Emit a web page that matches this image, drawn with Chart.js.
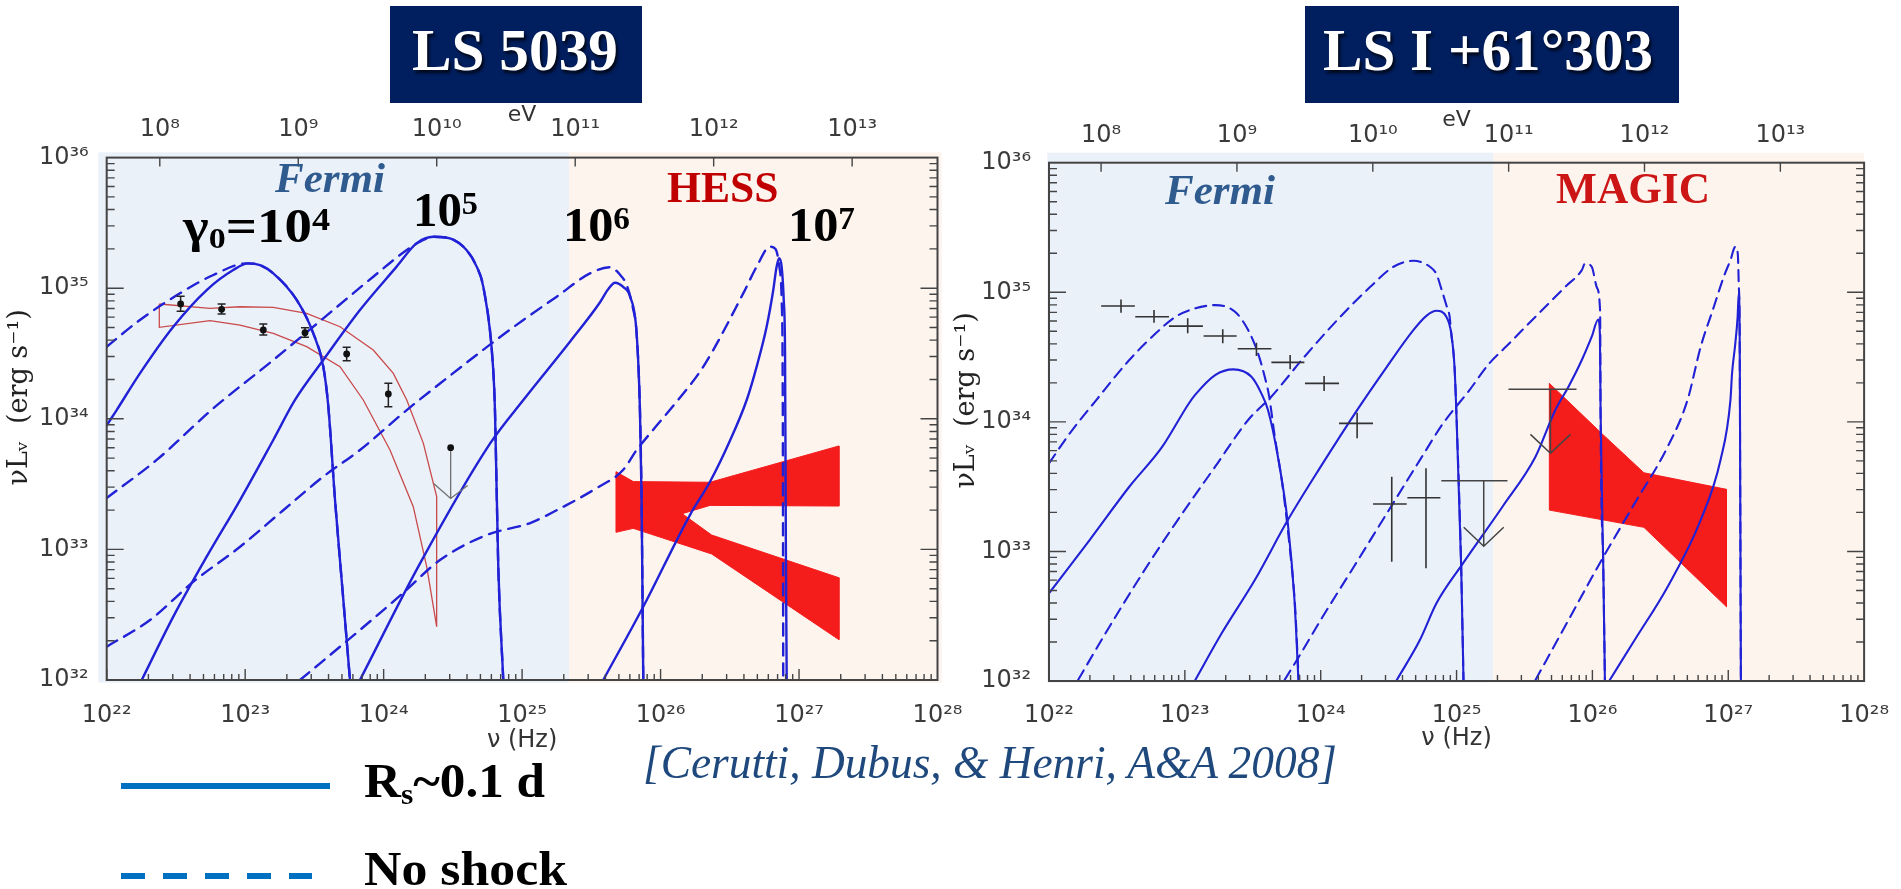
<!DOCTYPE html>
<html><head><meta charset="utf-8">
<script src="https://cdn.jsdelivr.net/npm/chart.js@4.4.1/dist/chart.umd.min.js"></script>
<style>
html,body{margin:0;padding:0;background:#fff;width:1901px;height:889px;overflow:hidden;position:relative;}
canvas{position:absolute;top:0;}
#cLeft{left:0;}
#cRight{left:950px;}
.box{position:absolute;background:#011e5e;}
.t{position:absolute;white-space:nowrap;line-height:1;transform-origin:0 0;font-family:"Liberation Serif",serif;}
.sup{position:relative;font-size:0.66em;top:-0.37em;}
.sub{position:relative;font-size:0.62em;top:0.22em;}
.ttl{font-size:60px;font-weight:bold;color:#fff;text-shadow:2px 3px 3px rgba(0,0,0,.75);}
.lab{font-size:48px;font-weight:bold;color:#000;}
.fermi{font-size:43px;font-weight:bold;font-style:italic;color:#2f5b8e;}
.legline{position:absolute;height:6px;}
</style></head><body>
<canvas id="cLeft" width="980" height="770"></canvas>
<canvas id="cRight" width="951" height="770"></canvas>
<div class="box" style="left:390px;top:6px;width:252px;height:97px"></div>
<div class="box" style="left:1305px;top:6px;width:374px;height:97px"></div>
<div class="t ttl" data-x="412" data-b="70" data-w="206">LS 5039</div>
<div class="t ttl" data-x="1323" data-b="70" data-w="330">LS I +61°303</div>
<div class="t fermi" data-x="275" data-b="191.7" data-w="110">Fermi</div>
<div class="t fermi" data-x="1165" data-b="203.5" data-w="110">Fermi</div>
<div class="t" data-x="666.7" data-b="201.7" data-w="111.6" style="font-size:45px;font-weight:bold;color:#c00000">HESS</div>
<div class="t" data-x="1556" data-b="203" data-w="154" style="font-size:44px;font-weight:bold;color:#cc1515">MAGIC</div>
<div class="t lab" data-x="183" data-b="241.7" data-w="147">γ<span class="sub">0</span>=10<span class="sup">4</span></div>
<div class="t lab" data-x="413" data-b="226" data-w="65">10<span class="sup">5</span></div>
<div class="t lab" data-x="563" data-b="241" data-w="67">10<span class="sup">6</span></div>
<div class="t lab" data-x="788" data-b="241" data-w="67">10<span class="sup">7</span></div>
<div class="legline" style="left:121px;top:782.7px;width:209px;background:#0070c0"></div>
<div class="legline" style="left:121px;top:873px;width:191px;background:repeating-linear-gradient(to right,#0070c0 0 24px,transparent 24px 42px)"></div>
<div class="t lab" data-x="364" data-b="797" data-w="181">R<span class="sub">s</span>~0.1 d</div>
<div class="t lab" data-x="364" data-b="885" data-w="203">No shock</div>
<div class="t" data-x="643" data-b="778" data-w="694" style="font-size:46px;font-style:italic;color:#1f497d">[Cerutti, Dubus, &amp; Henri, A&amp;A 2008]</div>
<script>
// ---------------- DATA (log10 ν [Hz], log10 νLν [erg/s]) ----------------
const hzTickValues = [1e22, 1e23, 1e24, 1e25, 1e26, 1e27, 1e28];
const hzTickLabels = ['10²²', '10²³', '10²⁴', '10²⁵', '10²⁶', '10²⁷', '10²⁸'];
const evTickValues = [1e8, 1e9, 1e10, 1e11, 1e12, 1e13];
const evTickLabels = ['10⁸', '10⁹', '10¹⁰', '10¹¹', '10¹²', '10¹³'];
const lumTickValues = [1e32, 1e33, 1e34, 1e35, 1e36];
const lumTickLabels = ['10³²', '10³³', '10³⁴', '10³⁵', '10³⁶'];
const HZ_TO_EV = 4.135667e-15;

// LS 5039
const ls_bandEdges = [1e22, 2.18e25, 1e28];
const ls_solid_g4 = [[22.0,33.95],[22.072,34.067],[22.24,34.348],[22.481,34.705],[22.722,34.986],[22.914,35.139],[23.023,35.19],[23.107,35.177],[23.203,35.114],[23.372,34.91],[23.492,34.654],[23.564,34.4],[23.6,34.1],[23.649,33.378],[23.709,32.613],[23.757,32.0]];
const ls_dash_g4 = [[22.0,34.552],[22.24,34.757],[22.529,34.961],[22.77,35.101],[23.011,35.19],[23.107,35.177],[23.203,35.114],[23.372,34.91],[23.492,34.654],[23.564,34.4],[23.6,34.1],[23.649,33.378],[23.709,32.613],[23.757,32.0]];
const ls_solid_g5 = [[22.253,32.0],[22.481,32.485],[22.722,32.944],[22.963,33.378],[23.203,33.838],[23.36,34.144],[23.564,34.45],[23.829,34.833],[24.094,35.165],[24.239,35.345],[24.359,35.394],[24.479,35.381],[24.6,35.29],[24.672,35.165],[24.72,35.01],[24.79,34.4],[24.804,34.067],[24.828,32.867],[24.864,32.0]];
const ls_dash_g5 = [[22.0,33.394],[22.361,33.685],[22.77,34.08],[23.203,34.45],[23.636,34.833],[23.925,35.088],[24.167,35.293],[24.263,35.356],[24.359,35.394],[24.479,35.381],[24.6,35.29],[24.672,35.165],[24.72,35.01],[24.79,34.4],[24.804,34.067],[24.828,32.867],[24.864,32.0]];
const ls_solid_g6 = [[23.829,32.0],[24.263,32.893],[24.768,33.81],[25.009,34.144],[25.347,34.592],[25.564,34.894],[25.62,34.99],[25.671,35.042],[25.73,35.01],[25.78,34.935],[25.827,34.654],[25.851,34.067],[25.863,33.378],[25.875,32.0]];
const ls_dash_g6 = [[22.0,32.255],[22.313,32.459],[22.626,32.753],[22.963,33.02],[23.275,33.30],[23.564,33.557],[23.829,33.761],[24.167,34.067],[24.407,34.27],[24.768,34.568],[25.009,34.757],[25.25,34.935],[25.49,35.113],[25.635,35.16],[25.709,35.101],[25.755,35.025],[25.8,34.85],[25.827,34.654],[25.851,34.067],[25.863,33.378],[25.875,32.0]];
const ls_solid_g7 = [[25.586,32.0],[25.875,32.561],[26.212,33.263],[26.357,33.518],[26.5,33.83],[26.622,34.144],[26.694,34.40],[26.766,34.705],[26.814,34.986],[26.838,35.165],[26.857,35.23],[26.875,35.16],[26.89,34.9],[26.899,34.5],[26.905,33.0],[26.911,32.0]];
const ls_dash_g7 = [[23.396,32.0],[23.829,32.383],[24.14,32.666],[24.407,32.919],[24.744,33.11],[25.058,33.202],[25.25,33.30],[25.539,33.47],[25.729,33.608],[25.827,33.761],[25.945,33.914],[26.116,34.131],[26.309,34.40],[26.597,34.96],[26.694,35.165],[26.79,35.318],[26.83,35.3],[26.86,35.15],[26.875,34.9],[26.883,34.0],[26.886,32.0]];
const ls_fermiBow = [[22.38,34.879],[22.746,34.846],[22.963,34.858],[23.203,34.853],[23.444,34.807],[23.685,34.705],[23.925,34.527],[24.07,34.348],[24.167,34.144],[24.287,33.812],[24.383,33.404],[24.383,32.408],[24.311,32.868],[24.214,33.327],[24.046,33.761],[23.853,34.144],[23.685,34.399],[23.444,34.552],[23.203,34.654],[22.963,34.718],[22.746,34.751],[22.38,34.70],[22.38,34.879]];
const ls_hessA = [[25.678,33.595],[25.803,33.519],[26.357,33.514],[27.288,33.792],[27.288,33.332],[26.357,33.337],[25.803,33.161],[25.678,33.131],[25.678,33.595]];
const ls_hessB = [[25.803,33.30],[26.152,33.276],[26.369,33.11],[27.288,32.783],[27.288,32.309],[26.369,32.965],[25.803,33.161],[25.803,33.30]];
const ls_pts_nu = [22.534, 22.83, 23.131, 23.432, 23.733, 24.034];
const ls_pts_L = [34.879, 34.838, 34.68, 34.659, 34.496, 34.19];
const ls_pts_Lhi = [34.939, 34.879, 34.726, 34.698, 34.547, 34.272];
const ls_pts_Llo = [34.824, 34.802, 34.642, 34.624, 34.445, 34.093];
const ls_ul_nu = [24.484];
const ls_ul_L = [33.779];
const ls_ul_Ltip = [33.39];

// LS I +61 303
const lsi_bandEdges = [1e22, 1.86e25, 1e28];
const lsi_solid_g4 = [[22.0,32.677],[22.299,33.088],[22.591,33.499],[22.834,33.808],[23.028,34.14],[23.077,34.21],[23.223,34.361],[23.357,34.405],[23.49,34.348],[23.563,34.22],[23.612,34.091],[23.685,33.731],[23.758,33.217],[23.807,32.625],[23.836,32.008]];
const lsi_dash_g4 = [[22.0,33.68],[22.153,33.911],[22.348,34.168],[22.591,34.477],[22.786,34.683],[22.931,34.811],[23.077,34.876],[23.223,34.901],[23.369,34.85],[23.466,34.708],[23.539,34.528],[23.588,34.348],[23.62,34.2],[23.66,33.9],[23.72,33.5],[23.775,33.0],[23.81,32.6],[23.838,32.008]];
const lsi_solid_g5 = [[23.077,32.008],[23.271,32.368],[23.515,32.779],[23.758,33.242],[24.0,33.654],[24.268,34.091],[24.487,34.425],[24.682,34.708],[24.78,34.82],[24.852,34.857],[24.925,34.811],[24.961,34.683],[24.985,34.425],[24.998,34.091],[25.034,32.882],[25.051,32.008]];
const lsi_dash_g5 = [[22.214,32.008],[22.445,32.419],[22.688,32.831],[22.931,33.217],[23.223,33.654],[23.466,34.014],[23.636,34.194],[23.88,34.502],[24.123,34.787],[24.365,35.042],[24.536,35.197],[24.682,35.243],[24.804,35.197],[24.852,35.14],[24.89,35.02],[24.925,34.9],[24.949,34.811],[24.961,34.683],[24.985,34.425],[24.998,34.091],[25.034,32.882],[25.051,32.008]];
const lsi_solid_g6 = [[24.56,32.008],[24.73,32.316],[24.852,32.6],[25.047,32.908],[25.338,33.345],[25.581,33.731],[25.727,34.091],[25.824,34.271],[25.922,34.477],[25.995,34.657],[26.043,34.79],[26.055,34.683],[26.06,34.091],[26.08,32.882],[26.092,32.008]];
const lsi_dash_g6 = [[23.734,32.008],[23.855,32.214],[24.0,32.471],[24.244,32.882],[24.487,33.294],[24.73,33.705],[24.901,33.988],[25.095,34.245],[25.241,34.451],[25.363,34.579],[25.508,34.734],[25.654,34.888],[25.8,35.042],[25.922,35.171],[25.946,35.223],[25.995,35.197],[26.031,35.042],[26.055,34.888],[26.058,34.7],[26.06,34.091],[26.08,32.882],[26.092,32.008]];
const lsi_solid_g7 = [[26.128,32.008],[26.311,32.316],[26.554,32.728],[26.797,33.242],[26.943,33.705],[27.016,34.168],[27.028,34.374],[27.052,34.606],[27.069,34.811],[27.077,34.991],[27.084,34.683],[27.088,33.5],[27.093,32.008]];
const lsi_dash_g7 = [[25.581,32.008],[25.824,32.471],[26.068,32.934],[26.311,33.371],[26.554,33.808],[26.7,34.168],[26.797,34.579],[26.894,34.888],[26.967,35.12],[27.016,35.248],[27.052,35.351],[27.07,35.3],[27.077,35.069],[27.084,34.683],[27.088,33.5],[27.093,32.008]];
const lsi_magic = [[25.683,34.297],[26.068,33.911],[26.379,33.607],[26.987,33.479],[26.987,32.573],[26.379,33.186],[25.683,33.319],[25.683,34.297]];
const lsi_cross_nu = [22.53, 22.773, 23.021, 23.279, 23.527, 23.775, 24.025, 24.268, 24.523, 24.775];
const lsi_cross_nuLo = [22.384, 22.635, 22.883, 23.138, 23.389, 23.637, 23.884, 24.135, 24.385, 24.638];
const lsi_cross_nuHi = [22.632, 22.883, 23.133, 23.381, 23.637, 23.88, 24.135, 24.385, 24.633, 24.881];
const lsi_cross_L = [34.894, 34.811, 34.739, 34.662, 34.564, 34.459, 34.297, 33.988, 33.366, 33.414];
const lsi_cross_Lhi = [34.945, 34.863, 34.799, 34.714, 34.61, 34.515, 34.353, 34.07, 33.576, 33.641];
const lsi_cross_Llo = [34.842, 34.765, 34.683, 34.606, 34.508, 34.405, 34.238, 33.873, 32.92, 32.87];
const lsi_ul_nuLo = [24.888, 25.382];
const lsi_ul_nuHi = [25.375, 25.883];
const lsi_ul_nu = [25.2, 25.691];
const lsi_ul_L = [33.546, 34.251];
const lsi_ul_Ltip = [33.04, 33.757];

// ---------------- helpers ----------------
const p10 = v => Math.pow(10, v);
const toXY = arr => arr.map(([a, b]) => ({x: p10(a), y: p10(b)}));

const BLUE = 'rgb(33,33,214)';
const RED = 'rgb(245,28,28)';

function curve(data, dashed, st) {
  return {data: toXY(data), showLine: true, borderColor: BLUE, borderWidth: st.lw,
    borderDash: dashed ? st.dash : [], pointRadius: 0, fill: false,
    cubicInterpolationMode: 'monotone', borderJoinStyle: 'round', borderCapStyle: 'round'};
}
function poly(data) {
  return {data: toXY(data), showLine: true, borderColor: RED, backgroundColor: RED, borderWidth: 1,
    pointRadius: 0, fill: 'shape', tension: 0};
}

const tickFont = {family: 'DejaVu Sans', size: 24};
const tickColor = '#3a3a3a';

function makeScales(L) {
  return {
    x: {type: 'logarithmic', position: 'bottom', min: 1e22, max: 1e28,
      afterBuildTicks: s => { s.ticks = hzTickValues.map(v => ({value: v})); },
      afterFit: s => { s.height = L.xH; },
      ticks: {callback: (v, i) => hzTickLabels[i], font: tickFont, color: tickColor, padding: L.xPad, maxRotation: 0, minRotation: 0, autoSkip: false},
      grid: {display: false}, border: {display: false},
      title: {display: true, text: 'ν (Hz)', font: {family: 'DejaVu Sans', size: 24}, color: '#333', padding: {top: 0, bottom: L.xTitlePad}}},
    x2: {type: 'logarithmic', position: 'top', min: 1e22 * HZ_TO_EV, max: 1e28 * HZ_TO_EV,
      afterBuildTicks: s => { s.ticks = evTickValues.map(v => ({value: v})); },
      afterFit: s => { s.height = L.x2H; },
      ticks: {callback: (v, i) => evTickLabels[i], font: tickFont, color: tickColor, padding: L.x2Pad, maxRotation: 0, minRotation: 0, autoSkip: false},
      grid: {display: false}, border: {display: false},
      title: {display: true, text: 'eV', font: {family: 'DejaVu Sans', size: 22}, color: '#333', padding: {top: L.evTitlePad, bottom: 0}}},
    y: {type: 'logarithmic', position: 'left', min: 1e32, max: 1e36,
      afterBuildTicks: s => { s.ticks = lumTickValues.map(v => ({value: v})); },
      afterFit: s => { s.width = L.yW; },
      ticks: {callback: (v, i) => lumTickLabels[i], font: tickFont, color: tickColor, padding: 10, autoSkip: false},
      grid: {display: false}, border: {display: false},
      title: {display: true, text: '\u00a0\u00a0\u00a0\u00a0\u00a0νLᵥ  (erg s⁻¹)', font: {family: 'DejaVu Serif', size: 27}, color: '#222', padding: {top: L.yTitlePad, bottom: 0}}},
    y2: {type: 'logarithmic', position: 'right', min: 1e32, max: 1e36,
      afterFit: s => { s.width = L.y2W; },
      ticks: {display: false}, grid: {display: false}, border: {display: false}}
  };
}

function sedPlugin(cfg) {
  return {
    id: 'sed',
    beforeDraw(chart) {
      const {ctx, chartArea: a, scales: {x}} = chart;
      ctx.save();
      const n = cfg.bandEdges.length - 1;
      for (let i = 0; i < n; i++) {
        let x0 = x.getPixelForValue(cfg.bandEdges[i]);
        let x1 = x.getPixelForValue(cfg.bandEdges[i + 1]);
        if (i === 0) x0 -= cfg.bandPad[0];
        if (i === n - 1) x1 += cfg.bandPad[1];
        ctx.fillStyle = cfg.bandColors[i];
        ctx.fillRect(x0, a.top - cfg.bandPad[2], x1 - x0, a.bottom - a.top + cfg.bandPad[2] + cfg.bandPad[3]);
      }
      ctx.restore();
    },
    afterDatasetsDraw(chart) {
      const {ctx, scales: {x, y}} = chart;
      const X = v => x.getPixelForValue(p10(v));
      const Y = v => y.getPixelForValue(p10(v));
      ctx.save();
      if (cfg.pts) {
        const P = cfg.pts;
        ctx.strokeStyle = '#222'; ctx.fillStyle = '#111'; ctx.lineWidth = 1.5;
        for (let i = 0; i < P.nu.length; i++) {
          const px = X(P.nu[i]), py = Y(P.L[i]), ph = Y(P.Lhi[i]), pl = Y(P.Llo[i]);
          ctx.beginPath();
          ctx.moveTo(px, ph); ctx.lineTo(px, pl);
          ctx.moveTo(px - 4, ph); ctx.lineTo(px + 4, ph);
          ctx.moveTo(px - 4, pl); ctx.lineTo(px + 4, pl);
          ctx.stroke();
          ctx.beginPath(); ctx.arc(px, py, 3.4, 0, Math.PI * 2); ctx.fill();
        }
      }
      if (cfg.ulDot) {
        const U = cfg.ulDot;
        for (let i = 0; i < U.nu.length; i++) {
          const px = X(U.nu[i]), py = Y(U.L[i]), pt = Y(U.tip[i]);
          ctx.strokeStyle = '#707070'; ctx.lineWidth = 1.3;
          ctx.beginPath(); ctx.moveTo(px, py); ctx.lineTo(px, pt);
          ctx.moveTo(px - 17, pt - 15); ctx.lineTo(px, pt); ctx.lineTo(px + 17, pt - 13);
          ctx.stroke();
          ctx.fillStyle = '#111';
          ctx.beginPath(); ctx.arc(px, py, 3.4, 0, Math.PI * 2); ctx.fill();
        }
      }
      if (cfg.crosses) {
        const C = cfg.crosses;
        ctx.strokeStyle = '#333'; ctx.lineWidth = 1.6;
        for (let i = 0; i < C.nu.length; i++) {
          ctx.beginPath();
          ctx.moveTo(X(C.nuLo[i]), Y(C.L[i])); ctx.lineTo(X(C.nuHi[i]), Y(C.L[i]));
          ctx.moveTo(X(C.nu[i]), Y(C.Lhi[i])); ctx.lineTo(X(C.nu[i]), Y(C.Llo[i]));
          ctx.stroke();
        }
      }
      if (cfg.uls) {
        const U = cfg.uls;
        ctx.strokeStyle = '#444'; ctx.lineWidth = 1.5;
        for (let i = 0; i < U.nu.length; i++) {
          const py = Y(U.L[i]), px = X(U.nu[i]), pt = Y(U.tip[i]);
          ctx.beginPath();
          ctx.moveTo(X(U.nuLo[i]), py); ctx.lineTo(X(U.nuHi[i]), py);
          ctx.moveTo(px, py); ctx.lineTo(px, pt);
          ctx.moveTo(px - 20, pt - 19); ctx.lineTo(px, pt); ctx.lineTo(px + 20, pt - 19);
          ctx.stroke();
        }
      }
      ctx.restore();
    },
    afterDraw(chart) {
      const {ctx, chartArea: a, scales: {x, y, x2}} = chart;
      ctx.save();
      ctx.strokeStyle = '#454545'; ctx.lineWidth = 1.4;
      ctx.beginPath();
      for (let e = 32; e < 36; e++) for (let k = 1; k <= 9; k++) {
        const v = k * Math.pow(10, e);
        const py = y.getPixelForValue(v);
        const len = k === 1 ? 17 : 8;
        ctx.moveTo(a.left, py); ctx.lineTo(a.left + len, py);
        ctx.moveTo(a.right, py); ctx.lineTo(a.right - len, py);
      }
      for (let e = 22; e < 28; e++) for (let k = 1; k <= 9; k++) {
        const v = k * Math.pow(10, e);
        const px = x.getPixelForValue(v);
        const len = k === 1 ? 11 : 6;
        ctx.moveTo(px, a.bottom); ctx.lineTo(px, a.bottom - len);
      }
      evTickValues.forEach(v => {
        const px = x2.getPixelForValue(v);
        ctx.moveTo(px, a.top); ctx.lineTo(px, a.top + 9);
      });
      ctx.stroke();
      ctx.strokeStyle = '#444'; ctx.lineWidth = 2;
      ctx.strokeRect(a.left, a.top, a.right - a.left, a.bottom - a.top);
      ctx.restore();
    }
  };
}

function makeChart(id, datasets, L, cfg) {
  return new Chart(document.getElementById(id).getContext('2d'), {
    type: 'scatter',
    data: {datasets},
    options: {
      responsive: false, animation: false, devicePixelRatio: 1, events: [],
      layout: {padding: {top: 100, left: 0, right: 0, bottom: 0}},
      plugins: {legend: {display: false}, tooltip: {enabled: false}},
      scales: makeScales(L)
    },
    plugins: [sedPlugin(cfg)]
  });
}

const stL = {lw: 2.4, dash: [12, 8]};
const stR = {lw: 2.1, dash: [11, 7]};

makeChart('cLeft', [
  curve(ls_solid_g4, false, stL), curve(ls_solid_g5, false, stL), curve(ls_solid_g6, false, stL), curve(ls_solid_g7, false, stL),
  curve(ls_dash_g4, true, stL), curve(ls_dash_g5, true, stL), curve(ls_dash_g6, true, stL), curve(ls_dash_g7, true, stL),
  {data: toXY(ls_fermiBow), showLine: true, borderColor: '#c94a4a', borderWidth: 1.3, pointRadius: 0, fill: false, tension: 0},
  poly(ls_hessA), poly(ls_hessB)
], {xH: 90, x2H: 57.6, yW: 106.7, y2W: 42.5, xPad: 13, x2Pad: 5, xTitlePad: 14.6, evTitlePad: 2, yTitlePad: 4},
{bandEdges: ls_bandEdges, bandColors: ['#ebf1f9', '#fdf4ee'], bandPad: [8.4, 4.2, 5.3, 2.7],
 pts: {nu: ls_pts_nu, L: ls_pts_L, Lhi: ls_pts_Lhi, Llo: ls_pts_Llo},
 ulDot: {nu: ls_ul_nu, L: ls_ul_L, tip: ls_ul_Ltip}});

makeChart('cRight', [
  curve(lsi_solid_g4, false, stR), curve(lsi_solid_g5, false, stR), curve(lsi_solid_g6, false, stR), curve(lsi_solid_g7, false, stR),
  curve(lsi_dash_g4, true, stR), curve(lsi_dash_g5, true, stR), curve(lsi_dash_g6, true, stR), curve(lsi_dash_g7, true, stR),
  poly(lsi_magic)
], {xH: 89, x2H: 62.7, yW: 99, y2W: 29.4, xPad: 12, x2Pad: 4.7, xTitlePad: 16.6, evTitlePad: 7, yTitlePad: 1},
{bandEdges: lsi_bandEdges, bandColors: ['#ebf1f9', '#fdf4ee'], bandPad: [1.7, 0, 10, 1.7],
 crosses: {nu: lsi_cross_nu, nuLo: lsi_cross_nuLo, nuHi: lsi_cross_nuHi, L: lsi_cross_L, Lhi: lsi_cross_Lhi, Llo: lsi_cross_Llo},
 uls: {nu: lsi_ul_nu, nuLo: lsi_ul_nuLo, nuHi: lsi_ul_nuHi, L: lsi_ul_L, tip: lsi_ul_Ltip}});

// ---------------- text placement (baseline + fitted width) ----------------
function placeTexts() {
  document.querySelectorAll('.t').forEach(el => {
    const x = +el.dataset.x, b = +el.dataset.b, w = +el.dataset.w;
    el.style.left = x + 'px'; el.style.top = '0px'; el.style.transform = 'none';
    const probe = document.createElement('span');
    probe.style.cssText = 'display:inline-block;width:0;height:0;vertical-align:baseline;';
    el.appendChild(probe);
    const r = el.getBoundingClientRect(), pr = probe.getBoundingClientRect();
    el.removeChild(probe);
    el.style.top = (b - (pr.top - r.top)) + 'px';
    if (w) el.style.transform = 'scaleX(' + (w / r.width) + ')';
  });
}
placeTexts();
if (document.fonts && document.fonts.ready) document.fonts.ready.then(placeTexts);
</script>
</body></html>
